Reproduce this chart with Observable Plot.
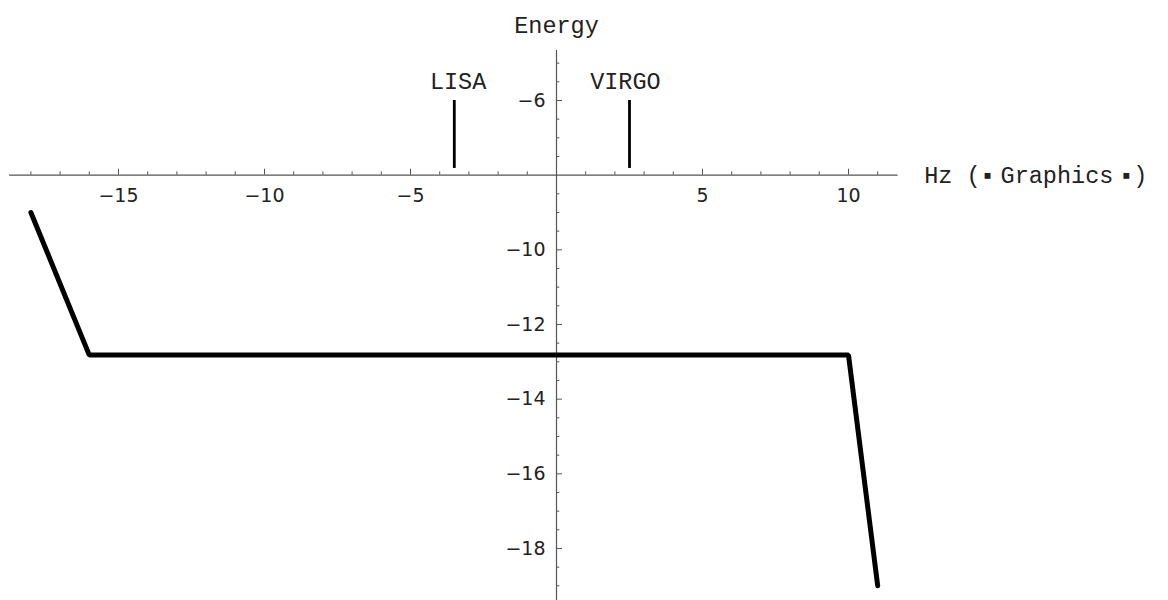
<!DOCTYPE html>
<html>
<head>
<meta charset="utf-8">
<script src="https://cdn.jsdelivr.net/npm/d3@7"></script>
<script src="https://cdn.jsdelivr.net/npm/@observablehq/plot@0.6"></script>
<style>
  html, body { margin: 0; padding: 0; background: #fff; }
</style>
</head>
<body>
<div id="chart"></div>
<script>
// ---- data ----
const curveX = [-18, -16, 10, 11];
const curveY = [-9, -12.82, -12.82, -19];
const detectors = ["LISA", "VIRGO"];
const detectorX = [-3.5, 2.5];
const detectorTop = [-6, -6];
const detectorBottom = [-7.82, -7.82];
const detectorLabelX = [-3.37, 2.36];
const detectorLabelY = [-5.5, -5.5];
const xMajorTicks = [-15, -10, -5, 5, 10];
const xMinorTicks = [-18, -17, -16, -14, -13, -12, -11, -9, -8, -7, -6, -4, -3, -2, -1, 1, 2, 3, 4, 6, 7, 8, 9, 11];
const yMajorTicks = [-6, -10, -12, -14, -16, -18];
const yMinorTicks = [-5, -5.5, -6.5, -7, -7.5, -8.5, -9, -9.5, -10.5, -11, -11.5, -12.5, -13, -13.5, -14.5, -15, -15.5, -16.5, -17, -17.5, -18.5, -19];
const xAxisTitle = "Hz (\u25AA\u2005Graphics\u2005\u25AA)";
const yAxisTitle = "Energy";
const axisOriginX = 0;
const axisOriginY = -8;
const xAxisExtent = [-18.73, 11.7];
const yAxisExtent = [-19.4, -4.66];

// ---- layout ----
const W = 1168, H = 600;
const pxPerX = 29.2, pxPerY = 37.33;
const x0px = 556, yM6px = 100;
const xDomain = [-x0px / pxPerX, (W - x0px) / pxPerX];
const yDomain = [-6 - (H - yM6px) / pxPerY, -6 + yM6px / pxPerY];

const curve = curveX.map((x, i) => ({x, y: curveY[i]}));
const dets = detectors.map((name, i) => ({
  name, x: detectorX[i], y1: detectorTop[i], y2: detectorBottom[i],
  lx: detectorLabelX[i], ly: detectorLabelY[i]
}));
const fmt = d => (d < 0 ? "\u2212" : "") + Math.abs(d);
const mono = "'Liberation Mono', 'DejaVu Sans Mono', monospace";
const sans = "'DejaVu Sans', sans-serif";
const axisColor = "#555";
const majX = 6 / pxPerY, minX = 3.3 / pxPerY;
const majY = 6 / pxPerX, minY = 3.3 / pxPerX;

const chart = Plot.plot({
  width: W, height: H,
  margin: 0,
  x: {domain: xDomain, axis: null},
  y: {domain: yDomain, axis: null},
  marks: [
    // axes lines
    Plot.ruleY([axisOriginY], {x1: xAxisExtent[0], x2: xAxisExtent[1], stroke: axisColor, strokeWidth: 1.2}),
    Plot.ruleX([axisOriginX], {y1: yAxisExtent[0], y2: yAxisExtent[1], stroke: axisColor, strokeWidth: 1.2}),
    // x ticks (pointing up)
    Plot.ruleX(xMajorTicks, {x: d => d, y1: axisOriginY, y2: axisOriginY + majX, stroke: axisColor}),
    Plot.ruleX(xMinorTicks, {x: d => d, y1: axisOriginY, y2: axisOriginY + minX, stroke: axisColor}),
    // y ticks (pointing right)
    Plot.ruleY(yMajorTicks, {y: d => d, x1: axisOriginX, x2: axisOriginX + majY, stroke: axisColor}),
    Plot.ruleY(yMinorTicks, {y: d => d, x1: axisOriginX, x2: axisOriginX + minY, stroke: axisColor}),
    // tick labels
    Plot.text(xMajorTicks, {x: d => d, y: axisOriginY, dy: 21, text: fmt, fontSize: 19, fontFamily: sans, fill: "#222"}),
    Plot.text(yMajorTicks, {x: axisOriginX, y: d => d, dx: -11, textAnchor: "end", text: fmt, fontSize: 19, fontFamily: sans, fill: "#222"}),
    // axis titles
    Plot.text([yAxisTitle], {x: axisOriginX, frameAnchor: "top", dy: 16, text: d => d, fontSize: 23.5, fontFamily: mono, fill: "#222"}),
    Plot.text([xAxisTitle], {x: xAxisExtent[1], y: axisOriginY, dx: 26, textAnchor: "start", text: d => d, fontSize: 23.5, fontFamily: mono, fill: "#222"}),
    // detector markers
    Plot.ruleX(dets, {x: "x", y1: "y1", y2: "y2", stroke: "black", strokeWidth: 2.8}),
    Plot.text(dets, {x: "lx", y: "ly", text: "name", fontSize: 23.5, fontFamily: mono, fill: "#222"}),
    // curve
    Plot.line(curve, {x: "x", y: "y", stroke: "black", strokeWidth: 5, strokeLinecap: "round", strokeLinejoin: "miter"})
  ]
});
document.getElementById("chart").appendChild(chart);
</script>
</body>
</html>
